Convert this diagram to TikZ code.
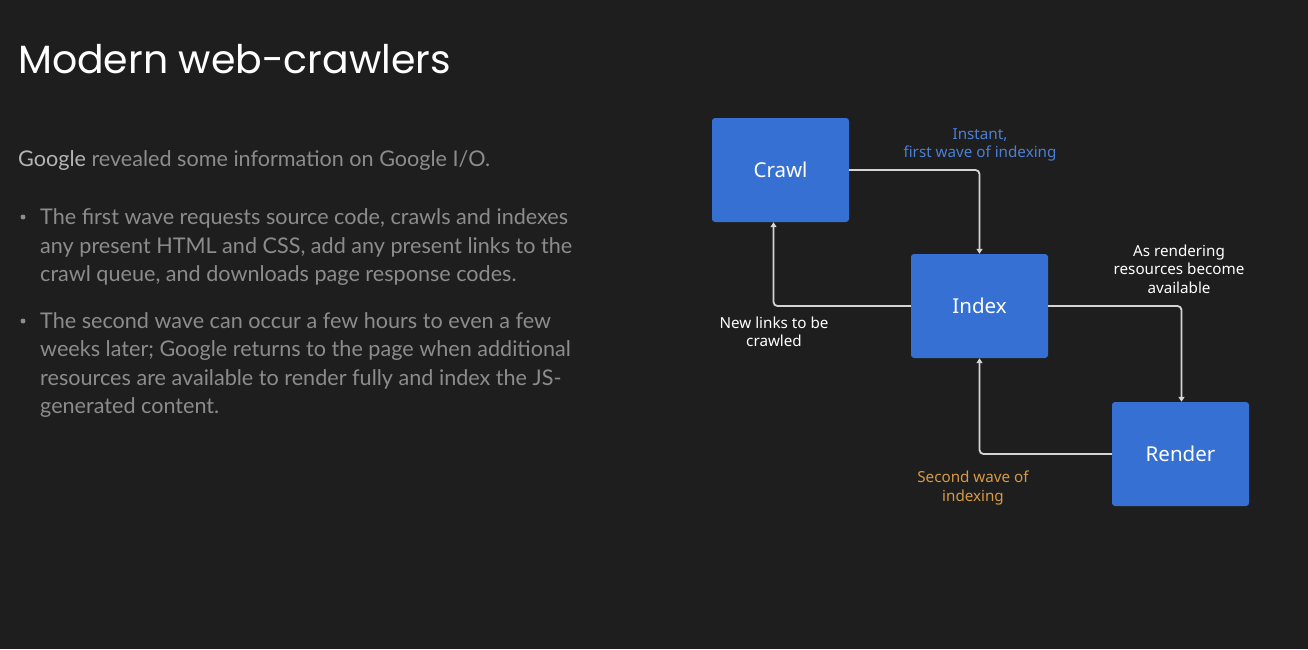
\documentclass[tikz,border=0pt]{standalone}
\usepackage{fontspec}
\setmainfont{Lato}
\newfontfamily\titlefont{Poppins}
\newfontfamily\diagfont{Noto Sans}
\usetikzlibrary{arrows.meta}
\definecolor{bg}{HTML}{1E1E1E}
\definecolor{boxblue}{HTML}{3570D2}
\definecolor{bodygray}{HTML}{8C8C8C}
\definecolor{googlegray}{HTML}{B4B4B4}
\definecolor{linkgray}{HTML}{D4D4D4}
\definecolor{labelblue}{HTML}{4B7FD6}
\definecolor{labelorange}{HTML}{D69A45}
\tikzset{
  stagebox/.style={fill=boxblue, rounded corners=3pt, minimum width=137pt, minimum height=104pt,
    inner sep=0pt, text=white, font=\diagfont\fontsize{20.5}{24}\selectfont},
  flow/.style={draw=linkgray, line width=1.8pt, rounded corners=4pt,
    -{Triangle[length=5pt,width=6pt]}},
  edgelabel/.style={align=center, inner sep=0pt, font=\diagfont\fontsize{15.2}{18.5}\selectfont},
  bodytext/.style={anchor=base west, inner sep=0pt, text=bodygray, align=left,
    font=\fontsize{21.6}{28.7}\selectfont},
  bulletdot/.style={circle, fill=bodygray, inner sep=0pt, minimum size=5pt}
}
\begin{document}
\begin{tikzpicture}[x=1pt, y=-1pt]
  \fill[bg] (0,0) rectangle (1308,649);
  \useasboundingbox (0,0) rectangle (1308,649);

  % title and text column
  \node[anchor=base west, inner sep=0pt, text=white, font=\titlefont\fontsize{39.4}{42}\selectfont]
    (title) at (18,73) {Modern web-crawlers};
  \node[bodytext] (intro) at (18,166)
    {\textcolor{googlegray}{Google} revealed some information on Google I/O.};

  \node[bulletdot] (dot1) at (23,217) {};
  \node[bodytext] (b1l1) at (40,224) {The first wave requests source code, crawls and indexes};
  \node[bodytext] (b1l2) at (40,253) {any present HTML and CSS, add any present links to the};
  \node[bodytext] (b1l3) at (40,281) {crawl queue, and downloads page response codes.};

  \node[bulletdot] (dot2) at (23,321) {};
  \node[bodytext] (b2l1) at (40,328) {The second wave can occur a few hours to even a few};
  \node[bodytext] (b2l2) at (40,356) {weeks later; Google returns to the page when additional};
  \node[bodytext] (b2l3) at (40,385) {resources are available to render fully and index the JS-};
  \node[bodytext] (b2l4) at (40,413) {generated content.};

  % pipeline stages
  \node[stagebox] (crawl)  at (780.5,170) {Crawl};
  \node[stagebox] (index)  at (979.5,306) {Index};
  \node[stagebox] (render) at (1180.5,454) {Render};

  % connectors
  \draw[flow] (crawl.east) -| (index.north);
  \draw[flow] (index.west) -| ([xshift=-7pt]crawl.south);
  \draw[flow] (index.east) -| ([xshift=1pt]render.north);
  \draw[flow] (render.west) -| (index.south);

  % connector labels
  \node[edgelabel, text=labelblue] (lblfirst) at (980,145) {Instant,\\first wave of indexing};
  \node[edgelabel, text=white] (lblres) at (1179,269) {As rendering\\resources become\\available};
  \node[edgelabel, text=white] (lblnew) at (774,332) {New links to be\\crawled};
  \node[edgelabel, text=labelorange] (lblsecond) at (973,488) {Second wave of\\indexing};
\end{tikzpicture}
\end{document}
